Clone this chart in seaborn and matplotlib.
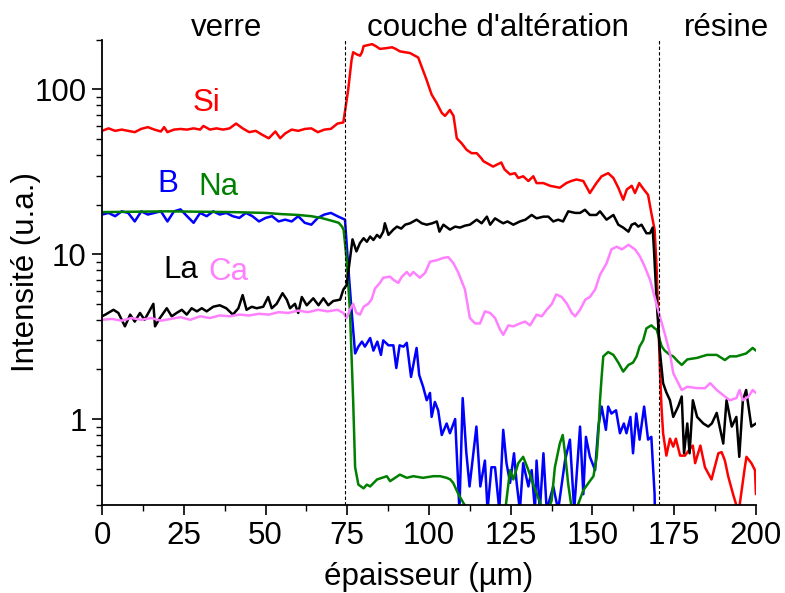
import seaborn as sns
import matplotlib.pyplot as plt
import matplotlib.ticker as mticker
import pandas as pd

# profils d'intensite (x en um)
x_si = [0, 2, 4, 6, 8, 10, 12, 14, 16, 18, 19, 20, 22, 24, 26, 28, 30, 31, 33, 35, 37, 39, 41, 43, 45, 47, 49,
        51, 53, 54.5, 56, 58, 60, 62, 64, 66, 68, 70, 72, 73.8, 75.3, 76.3, 76.8, 77.9, 78.9, 79.5, 80,
        82.6, 83.7, 85, 87.2, 88.7, 89.8, 91.1, 92.7, 94.2, 95.7, 96.7, 97.7, 99.2, 100.8, 102.3, 103.9, 104.9,
        106.4, 107.5, 108.5, 110, 111.5, 113, 114.6, 116.1, 116.6, 119.6, 122.1, 123.1, 124.8, 126.3, 127.3,
        128.8, 130.4, 131.9, 132.9, 135, 137, 140, 142, 143.5, 145.1, 147.2, 149.2, 151.2, 152.8, 154.8, 156.4,
        157.9, 159.4, 160.5, 162, 163, 164.3, 165.5, 167, 168, 169, 169.6, 170.1, 170.6, 171.1, 171.6, 172.6,
        173.7, 174.7, 175.5, 176.8, 178.3, 179.8, 180.7, 181.4, 183, 184.4, 186.4, 188.5, 189.5, 190.5, 191.5,
        193, 194, 195, 196.6, 197.1, 198.6, 199.7, 200]
si = [56, 58, 56, 57, 56, 55, 57.6, 59, 57, 55.5, 59, 55, 57, 57.5, 57, 58, 57, 60, 57, 58, 57, 58, 62, 58, 55, 56, 53,
      50.5, 55.5, 50.5, 54, 57, 56, 57.5, 58, 55, 57, 57.6, 62, 63, 100, 150, 168, 163, 160, 168, 183,
      188, 183, 176, 178, 180, 176, 170, 168, 166, 160, 156, 138, 115, 93, 83, 72, 69,
      75, 69, 50.5, 47, 43, 41, 41, 38, 36.7, 34, 36, 32.7, 30.5, 31, 29,
      29.7, 27.8, 29.7, 27, 27, 26, 25.3, 27, 27.8, 28.4, 27.8, 23.5, 27, 29.7, 31, 29,
      25.3, 21.4, 24.7, 26, 23.5, 27, 25, 22.9, 17.8, 14.1, 8.4, 4.2, 2.08, 1.19, 0.82, 0.6,
      0.76, 0.68, 0.76, 0.6, 0.6, 0.66, 0.69, 0.54, 0.69, 0.51, 0.43, 0.62, 0.63, 0.56, 0.45,
      0.35, 0.3, 0.3, 0.51, 0.59, 0.54, 0.49, 0.35]

x_b = [0, 2, 4, 6, 8, 10, 12, 14, 16, 18, 20, 22, 24, 26, 28, 30, 32, 34, 36, 38, 40, 42, 44, 46, 48, 50,
       52, 54, 56, 58, 60, 62, 64, 66, 68, 70, 72, 74.3, 75.3, 76.3, 77.4, 78.4, 79.5, 80.4, 82, 83, 84.2,
       85.3, 86, 87.6, 89.1, 90, 91, 92.2, 93.2, 94.5, 96.2, 97, 98.2, 99.3, 100.3, 100.8, 101.8, 102.8,
       103.9, 105.4, 106.4, 108, 109.3, 110.3, 111.4, 112.4, 114.5, 115.7, 117.1, 117.9, 119.1, 120.2,
       121.5, 122.7, 123.7, 124.8, 126, 126.8, 127.8, 128.8, 130.4, 131.4, 132.4, 132.9, 133.9, 135, 136,
       138, 139.5, 141.6, 143.1, 144.4, 146.2, 147.2, 148, 149.2, 150.8, 151.8, 152.8, 154.1, 154.8,
       155.8, 157.2, 158.4, 159.6, 160.4, 161.6, 162.4, 163.4, 164.4, 165.8, 167, 168, 169, 169.4]
b = [17.4, 17.8, 17.0, 18.2, 17.8, 15.8, 18.2, 17.4, 17.8, 18.2, 15.8, 18.2, 18.7, 17.0, 15.5, 17.8,
     17.0, 18.2, 17.4, 17.8, 17.0, 16.6, 17.8, 17.0, 15.8, 16.6, 17.0, 15.8, 16.2, 15.8, 17.0, 15.5,
     15.1, 16.6, 17.4, 17.8, 17.0, 16.2, 8.4, 4.6, 2.5, 2.75, 2.95, 2.75, 3.1, 2.6, 2.95,
     2.45, 3.0, 2.8, 2.8, 2.04, 2.8, 2.75, 2.9, 1.8, 2.7, 1.85, 1.57, 1.3, 1.44, 1.03, 1.27, 1.13,
     0.8, 0.94, 0.82, 1.0, 0.28, 1.34, 0.63, 0.39, 0.9, 0.39, 0.56, 0.28, 0.51, 0.51,
     0.28, 0.86, 0.54, 0.41, 0.62, 0.41, 0.28, 0.54, 0.39, 0.49, 0.28, 0.56, 0.28, 0.62, 0.28,
     0.39, 0.28, 0.56, 0.75, 0.28, 0.9, 0.35, 0.78, 0.59, 0.49, 0.9, 1.19, 0.86, 1.19,
     1.08, 1.13, 0.82, 0.94, 0.82, 1.03, 0.62, 1.08, 0.75, 1.19, 0.75, 0.78, 0.35, 0.1]

x_na = [0, 10, 20, 30, 40, 50, 55, 60, 64, 67, 69, 71, 72.4, 73.4, 73.9, 74.8, 75.8, 76.8, 77.4, 78.4,
        80, 81, 82, 84.1, 87.1, 88.1, 91.1, 93.2, 95.2, 98.2, 101.3, 103.4, 105.4, 106.5, 107.4, 109,
        110.5, 111.5, 113, 118, 122.5, 123.5, 124.8, 125.8, 127.3, 128.8, 130.4, 131.9, 133, 134, 135.5,
        137.5, 138.5, 140, 140.9, 141.6, 142.6, 143.5, 144.5, 145.5, 147.2, 148.8, 150.3, 151.3, 151.8,
        152.3, 152.8, 153.3, 154.8, 156.4, 157.9, 159.4, 161, 162.4, 163.5, 164.4, 165.5, 166.5, 168,
        169, 169.6, 170.6, 171.2, 172.1, 173.7, 174.7, 176, 177.3, 179, 182, 185, 188, 190.5, 192, 194,
        197, 199, 200]
na = [18.0, 18.1, 18.2, 18.1, 18.0, 17.8, 17.5, 17.3, 17.0, 16.6, 16.2, 15.8, 15.5, 14.7, 14.0, 9.3,
      4.6, 1.3, 0.51, 0.40, 0.38, 0.40, 0.39, 0.43, 0.45, 0.42, 0.46, 0.44, 0.45, 0.44, 0.45, 0.45, 0.44,
      0.43, 0.41, 0.35, 0.31, 0.29, 0.2, 0.2, 0.2, 0.3, 0.49, 0.43, 0.54, 0.59, 0.49, 0.4, 0.35, 0.31,
      0.25, 0.32, 0.51, 0.71, 0.8, 0.62, 0.4, 0.3, 0.2, 0.3, 0.37, 0.41, 0.45, 0.59, 0.82,
      1.3, 1.8, 2.4, 2.55, 2.45, 2.2, 1.94, 2.13, 2.2, 2.4, 2.75, 3.0, 3.55, 3.7,
      3.55, 3.5, 3.0, 2.75, 2.6, 2.45, 2.4, 2.25, 2.13, 2.3, 2.35, 2.45, 2.45, 2.28, 2.4, 2.4,
      2.5, 2.7, 2.6]

x_la = [0, 1, 3.5, 5, 7, 8.6, 10, 11.6, 13, 14.7, 15.7, 16.2, 17.7, 19.8, 21.3, 22.8, 24.4, 25.9, 27.4, 29,
        30.5, 32, 34, 36, 38, 40, 41.7, 43, 44.2, 45.8, 47.3, 49.3, 50.8, 51.9, 53.4, 55.2, 56.5, 57.5, 59,
        60, 61.1, 62.6, 64.6, 66.2, 67.7, 69.2, 70.7, 72.8, 73.8, 74.8, 75.8, 76.6, 77.8, 78.9, 80, 81, 82,
        83, 84.1, 85, 86, 86.5, 87.6, 89.1, 90.2, 91.5, 92.7, 94.2, 96.2, 97.8, 99.3, 101, 102.4, 103.2,
        104.4, 106.4, 108, 109.5, 111, 112.5, 114.6, 116.1, 117.7, 118.7, 120.2, 121.7, 122.7, 124, 125.8,
        127.8, 129.5, 131.4, 132.9, 135, 136.5, 138, 139.5, 141, 142.6, 144.7, 146.2, 147.7, 149.2, 151.2,
        152.3, 154.3, 156.4, 157.9, 159.4, 161, 162, 163, 164, 165, 166.5, 167.6, 168.4, 168.8, 169.6,
        170.6, 171.6, 172.6, 173.7, 174.7, 176.2, 177.3, 178, 179, 179.7, 180.7, 182, 183.9, 185.4, 186.5,
        188, 190, 191, 192.6, 194, 194.9, 196, 197, 198.6, 200]
la = [4.2, 4.3, 4.6, 4.4, 3.65, 4.3, 3.9, 4.4, 4.0, 4.6, 5.0, 3.65, 4.1, 4.7, 4.2, 4.4, 4.6, 4.3, 4.7, 4.5,
      4.7, 4.5, 4.8, 4.9, 4.7, 4.3, 4.7, 5.65, 4.6, 4.8, 4.7, 4.8, 5.5, 4.7, 5.0, 5.8, 5.3, 4.7, 5.0,
      4.4, 5.5, 4.9, 5.4, 4.9, 5.4, 4.9, 5.2, 5.3, 6.1, 6.5, 9.3, 12.3, 10.4, 11.7, 12.5, 11.9, 12.8,
      12.2, 13.1, 12.6, 13.7, 15.4, 13.1, 14.1, 14.7, 14.3, 15.1, 15.4, 16.2, 15.4, 15.1, 15.4, 15.8, 13.7,
      15.1, 14.1, 14.7, 14.5, 14.9, 15.1, 16.2, 15.4, 16.9, 15.1, 16.5, 15.8, 15.4, 15.8, 15.1,
      15.8, 16.2, 17.3, 16.5, 16.9, 16.9, 15.8, 16.2, 15.8, 18.2, 17.8, 17.8, 18.6, 17.3, 17.3,
      18.2, 16.2, 17.3, 15.1, 14.5, 13.7, 15.1, 15.4, 14.7, 15.1, 13.4, 13.4, 14.5, 10.7, 5.3,
      2.6, 1.65, 1.45, 1.3, 1.03, 1.19, 1.37, 0.62, 0.94, 0.62, 1.3, 1.03, 0.94, 0.9, 0.94,
      1.09, 0.71, 1.3, 0.9, 1.03, 0.59, 1.3, 1.5, 0.9, 0.94]

x_ca = [0, 3, 6, 9, 12, 15, 18, 21, 24, 27, 30, 33, 36, 39, 42, 45, 48, 51, 54, 57, 60, 63, 66, 69, 72,
        73.8, 74.8, 75.8, 76.8, 77.8, 78.9, 80, 81.4, 82.4, 83.5, 85, 86, 88.1, 89.1, 90.6, 91.7, 93.2,
        94.2, 95.2, 97.2, 98.8, 100.3, 102.4, 104.4, 105.9, 107.5, 109, 111, 112.5, 114.1, 115.6, 117.1,
        118.7, 120.2, 121.7, 122.7, 124.3, 125.8, 127.8, 129.4, 130.9, 132.9, 134.5, 136, 137.6, 138.9,
        140.6, 142.2, 143.7, 144.7, 146.2, 147.8, 149.2, 150.8, 152.3, 154.3, 155.8, 157.4, 159, 161, 163,
        164.5, 166, 167.6, 169, 170.6, 172.1, 173.7, 174.7, 177.3, 179, 182, 184.4, 186, 188, 190.5, 192,
        194, 195, 196, 197.7, 199, 200]
ca = [4.0, 4.05, 3.95, 4.1, 4.0, 4.1, 3.95, 4.05, 4.15, 4.0, 4.2, 4.1, 4.25, 4.2, 4.3, 4.25, 4.35, 4.3,
      4.45, 4.4, 4.55, 4.45, 4.6, 4.5, 4.6,
      4.4, 4.1, 4.6, 5.0, 4.4, 4.3, 4.8, 5.0, 5.3, 6.2, 6.7, 7.2, 7.3, 7.0, 6.7, 7.3, 7.8,
      7.4, 7.8, 7.2, 7.7, 9.0, 9.2, 9.5, 9.6, 8.8, 7.7, 6.1, 4.1, 3.8, 3.8, 4.5,
      4.4, 4.1, 3.5, 3.24, 3.7, 3.65, 3.8, 3.9, 3.7, 4.3, 4.2, 4.6, 5.0, 5.7,
      5.5, 5.0, 4.4, 4.2, 4.6, 5.3, 5.5, 6.1, 7.5, 8.8, 10.7, 11.1, 10.7, 11.4, 10.7,
      9.7, 8.4, 7.0, 5.5, 4.2, 3.3, 2.5, 1.9, 1.5, 1.57, 1.54, 1.54, 1.65, 1.5, 1.37, 1.3,
      1.34, 1.5, 1.3, 1.37, 1.5, 1.44]

elements = ["Si", "B", "Na", "La", "Ca"]
couleurs = {"Si": "#ff0000", "B": "#0000ff", "Na": "#008000", "La": "#000000", "Ca": "#ff80ff"}
# position des etiquettes (x, intensite)
etiquettes = {"Si": (32, 83), "B": (20, 26.5), "Na": (35.5, 25.7), "La": (24, 8.0), "Ca": (38.5, 7.8)}
zones = ["verre", "couche d'altération", "résine"]
zones_x = [38, 121, 191]
interfaces = [74.3, 170.3]

frames = []
for nom, xs, ys in [("Si", x_si, si), ("B", x_b, b), ("Na", x_na, na), ("La", x_la, la), ("Ca", x_ca, ca)]:
    frames.append(pd.DataFrame({"x": xs, "I": ys, "el": nom}))
df = pd.concat(frames, ignore_index=True)

sns.set_style("ticks")
plt.rcParams['font.family'] = ['Liberation Sans', 'DejaVu Sans']
plt.rcParams.update({"text.color": "black", "axes.labelcolor": "black",
                     "xtick.color": "black", "ytick.color": "black", "axes.edgecolor": "black"})

fs = 22.5
fig = plt.figure(figsize=(7.85, 5.93), dpi=100)
ax = fig.add_axes([0.130, 0.148, 0.833, 0.785])

sns.lineplot(data=df, x="x", y="I", hue="el", hue_order=elements, palette=couleurs,
             estimator=None, sort=False, linewidth=1.8, legend=False, ax=ax)

for xi in interfaces:
    ax.axvline(xi, color="black", ls=(0, (3, 2)), lw=0.8)

ax.set_yscale("log")
ax.set_ylim(0.3, 200)
ax.set_xlim(0, 200)
ax.set_xticks(range(0, 201, 25))
ax.xaxis.set_minor_locator(mticker.MultipleLocator(12.5))
ax.yaxis.set_major_formatter(mticker.FuncFormatter(lambda v, p: f"{v:g}"))
ax.yaxis.set_minor_formatter(mticker.NullFormatter())
ax.tick_params(which="major", length=7, width=1.2, labelsize=fs, direction="out", pad=4)
ax.tick_params(which="minor", length=4, width=1.0, direction="out")

for s in ["top", "right"]:
    ax.spines[s].set_visible(False)
for s in ["left", "bottom"]:
    ax.spines[s].set_linewidth(1.3)

ax.set_xlabel("épaisseur (µm)", fontsize=fs)
ax.set_ylabel("Intensité (u.a.)", fontsize=fs)
ax.xaxis.set_label_coords(0.5, -0.122)
ax.yaxis.set_label_coords(-0.093, 0.5)

for el in elements:
    tx, ty = etiquettes[el]
    ax.text(tx, ty, el, color=couleurs[el], fontsize=fs, ha="center", va="center")

for z, zx in zip(zones, zones_x):
    ax.text(zx, 1.026, z, transform=ax.get_xaxis_transform(), fontsize=fs, ha="center", va="center")

fig.savefig("out.png", dpi=100)
